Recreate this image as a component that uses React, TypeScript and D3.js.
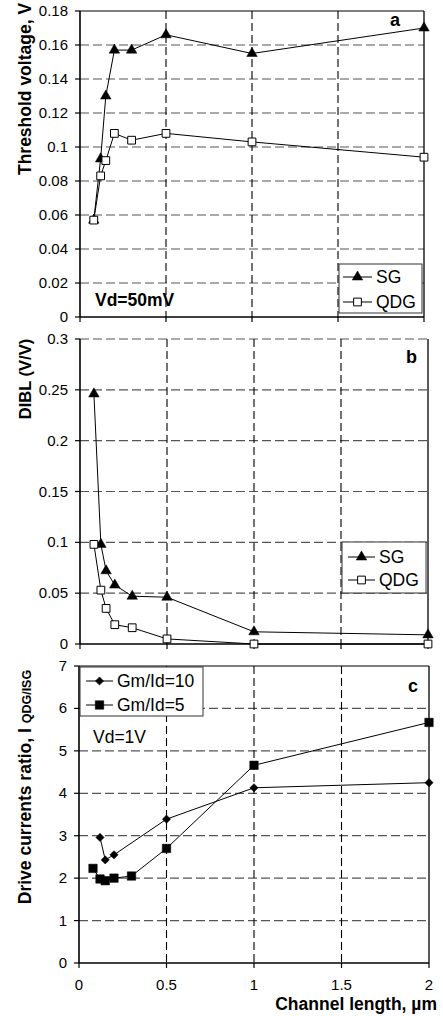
import React from "react";
import * as d3 from "d3";

// channel lengths, um
const lengths = [0.08, 0.12, 0.15, 0.2, 0.3, 0.5, 1, 2];
const lengthsGm10 = [0.12, 0.15, 0.2, 0.5, 1, 2];

// panel a: threshold voltage, V
const vtSG = [0.057, 0.093, 0.13, 0.157, 0.157, 0.166, 0.155, 0.17];
const vtQDG = [0.057, 0.083, 0.092, 0.108, 0.104, 0.108, 0.103, 0.094];

// panel b: DIBL (V/V)
const diblSG = [0.246, 0.098, 0.072, 0.058, 0.047, 0.046, 0.012, 0.009];
const diblQDG = [0.098, 0.053, 0.035, 0.019, 0.016, 0.005, 0.0, 0.0];

// panel c: drive currents ratio
const ratioGm10 = [2.96, 2.43, 2.55, 3.39, 4.13, 4.25];
const ratioGm5 = [2.23, 1.98, 1.94, 2.0, 2.05, 2.7, 4.66, 5.67];

const xTicks = [0, 0.5, 1, 1.5, 2];
const vtTicks = d3.range(0, 0.1801, 0.02);
const diblTicks = d3.range(0, 0.3001, 0.05);
const ratioTicks = d3.range(0, 8, 1);

const W = 443;
const H = 1016;
const FONT = "Arial, 'Liberation Sans', Helvetica, sans-serif";

const fmt = (v: number) => String(+v.toFixed(2));

type Marker = "triangle" | "openSquare" | "square" | "diamond";

const markerPath = (m: Marker) => {
  if (m === "triangle") return d3.symbol(d3.symbolTriangle, 48)()!;
  if (m === "openSquare") return d3.symbol(d3.symbolSquare, 60)()!;
  if (m === "square") return d3.symbol(d3.symbolSquare, 72)()!;
  return d3.symbol(d3.symbolSquare, 34)()!;
};

const MarkerShape = ({ m, x, y }: { m: Marker; x: number; y: number }) => (
  <path
    d={markerPath(m)}
    transform={`translate(${x},${y})${m === "diamond" ? " rotate(45)" : ""}`}
    fill={m === "openSquare" ? "#fff" : "#000"}
    stroke="#000"
    strokeWidth={m === "openSquare" ? 1 : 0.5}
  />
);

type Series = { xs: number[]; ys: number[]; marker: Marker; label: string };

type PanelProps = {
  x0: number;
  x1: number;
  yTop: number;
  yBot: number;
  yMax: number;
  ticks: number[];
  series: Series[];
  topSolid: boolean;
  legend: { x: number; y: number; w: number; h: number; line: [number, number]; rows: number[] };
  letter: { text: string; x: number; y: number };
  showXLabels?: boolean;
};

const Panel = (p: PanelProps) => {
  const x = d3.scaleLinear().domain([0, 2]).range([p.x0, p.x1]);
  const y = d3.scaleLinear().domain([0, p.yMax]).range([p.yBot, p.yTop]);
  const line = d3
    .line<[number, number]>()
    .x(d => x(d[0]))
    .y(d => y(d[1]));
  const lg = p.legend;
  return (
    <g>
      {/* horizontal grid */}
      {p.ticks.slice(1).map((t, i) => (
        <line
          key={"h" + i}
          x1={p.x0}
          x2={p.x1}
          y1={y(t)}
          y2={y(t)}
          stroke={i === p.ticks.length - 2 && p.topSolid ? "#000" : "#555"}
          strokeWidth={1.2}
          strokeDasharray={i === p.ticks.length - 2 && p.topSolid ? undefined : "9,4"}
        />
      ))}
      {/* vertical grid */}
      {xTicks.slice(1, -1).map((t, i) => (
        <line
          key={"v" + i}
          x1={x(t)}
          x2={x(t)}
          y1={p.yTop}
          y2={p.yBot}
          stroke="#000"
          strokeWidth={1.1}
          strokeDasharray="8,4"
        />
      ))}
      {/* frame */}
      <line x1={p.x1} x2={p.x1} y1={p.yTop} y2={p.yBot} stroke="#000" strokeWidth={1.3} />
      <line x1={p.x0} x2={p.x0} y1={p.yTop} y2={p.yBot} stroke="#000" strokeWidth={1.6} />
      <line x1={p.x0} x2={p.x1} y1={p.yBot} y2={p.yBot} stroke="#000" strokeWidth={1.6} />
      {/* y ticks */}
      {p.ticks.map((t, i) => (
        <g key={"yt" + i}>
          <line x1={p.x0 - 5} x2={p.x0} y1={y(t)} y2={y(t)} stroke="#000" strokeWidth={1.2} />
          <text
            x={p.x0 - 12}
            y={y(t) + 5}
            textAnchor="end"
            fontSize={15}
            fontFamily={FONT}
          >
            {fmt(t)}
          </text>
        </g>
      ))}
      {/* x ticks */}
      {xTicks.map((t, i) => (
        <g key={"xt" + i}>
          <line x1={x(t)} x2={x(t)} y1={p.yBot} y2={p.yBot + 5} stroke="#000" strokeWidth={1.2} />
          {p.showXLabels && (
            <text x={x(t)} y={p.yBot + 27} textAnchor="middle" fontSize={15} fontFamily={FONT}>
              {fmt(t)}
            </text>
          )}
        </g>
      ))}
      {/* series */}
      {p.series.map((s, si) => {
        const pts = s.xs.map((v, i) => [v, s.ys[i]] as [number, number]);
        return (
          <g key={"s" + si}>
            <path d={line(pts)!} fill="none" stroke="#000" strokeWidth={1} />
            {pts.map((d, i) => (
              <MarkerShape key={i} m={s.marker} x={x(d[0])} y={y(d[1])} />
            ))}
          </g>
        );
      })}
      {/* legend */}
      <rect x={lg.x} y={lg.y} width={lg.w} height={lg.h} fill="#fff" stroke="#333" strokeWidth={1} />
      {p.series.map((s, si) => (
        <g key={"l" + si}>
          <line x1={lg.line[0]} x2={lg.line[1]} y1={lg.rows[si]} y2={lg.rows[si]} stroke="#000" strokeWidth={1} />
          <MarkerShape m={s.marker} x={(lg.line[0] + lg.line[1]) / 2} y={lg.rows[si]} />
          <text x={lg.line[1] + 4} y={lg.rows[si] + 6} fontSize={17.5} fontFamily={FONT}>
            {s.label}
          </text>
        </g>
      ))}
      <text
        x={p.letter.x}
        y={p.letter.y}
        textAnchor="end"
        fontSize={18}
        fontWeight="bold"
        fontFamily={FONT}
      >
        {p.letter.text}
      </text>
    </g>
  );
};

const App = () => {
  return (
    <svg
      width={W}
      height={H}
      style={{ position: "absolute", left: 0, top: 0, background: "#fff" }}
    >
      <rect width={W} height={H} fill="#fff" />
      <Panel
        x0={80}
        x1={424}
        yTop={11}
        yBot={317}
        yMax={0.18}
        ticks={vtTicks}
        topSolid={true}
        series={[
          { xs: lengths, ys: vtSG, marker: "triangle", label: "SG" },
          { xs: lengths, ys: vtQDG, marker: "openSquare", label: "QDG" }
        ]}
        legend={{ x: 339, y: 264, w: 83, h: 49, line: [343, 372], rows: [277, 302] }}
        letter={{ text: "a", x: 400, y: 26 }}
      />
      <Panel
        x0={80}
        x1={428}
        yTop={339}
        yBot={644}
        yMax={0.3}
        ticks={diblTicks}
        topSolid={false}
        series={[
          { xs: lengths, ys: diblSG, marker: "triangle", label: "SG" },
          { xs: lengths, ys: diblQDG, marker: "openSquare", label: "QDG" }
        ]}
        legend={{ x: 342, y: 542, w: 84, h: 51, line: [348, 375], rows: [557, 580] }}
        letter={{ text: "b", x: 417, y: 363 }}
      />
      <Panel
        x0={79}
        x1={429}
        yTop={666}
        yBot={963}
        yMax={7}
        ticks={ratioTicks}
        topSolid={true}
        series={[
          { xs: lengthsGm10, ys: ratioGm10, marker: "diamond", label: "Gm/Id=10" },
          { xs: lengths, ys: ratioGm5, marker: "square", label: "Gm/Id=5" }
        ]}
        legend={{ x: 80, y: 667, w: 123, h: 49, line: [86, 113], rows: [681, 705] }}
        letter={{ text: "c", x: 418, y: 692 }}
        showXLabels={true}
      />
      {/* annotations */}
      <text x={95} y={306} fontSize={17.5} fontWeight="bold" fontFamily={FONT}>
        Vd=50mV
      </text>
      <text x={93} y={743} fontSize={17.5} fontFamily={FONT}>
        Vd=1V
      </text>
      {/* axis titles */}
      <text
        transform="translate(31,89) rotate(-90)"
        textAnchor="middle"
        fontSize={17.5}
        fontWeight="bold"
        fontFamily={FONT}
      >
        Threshold voltage, V
      </text>
      <text
        transform="translate(31,379) rotate(-90)"
        textAnchor="middle"
        fontSize={16.5}
        fontWeight="bold"
        fontFamily={FONT}
      >
        DIBL (V/V)
      </text>
      <text
        transform="translate(31,787) rotate(-90)"
        textAnchor="middle"
        fontSize={17.5}
        fontWeight="bold"
        fontFamily={FONT}
      >
        Drive currents ratio, I <tspan fontSize={12.5}>QDG/ISG</tspan>
      </text>
      <text
        x={437}
        y={1010}
        textAnchor="end"
        fontSize={17.5}
        fontWeight="bold"
        fontFamily={FONT}
      >
        Channel length, µm
      </text>
    </svg>
  );
};

export default App;
